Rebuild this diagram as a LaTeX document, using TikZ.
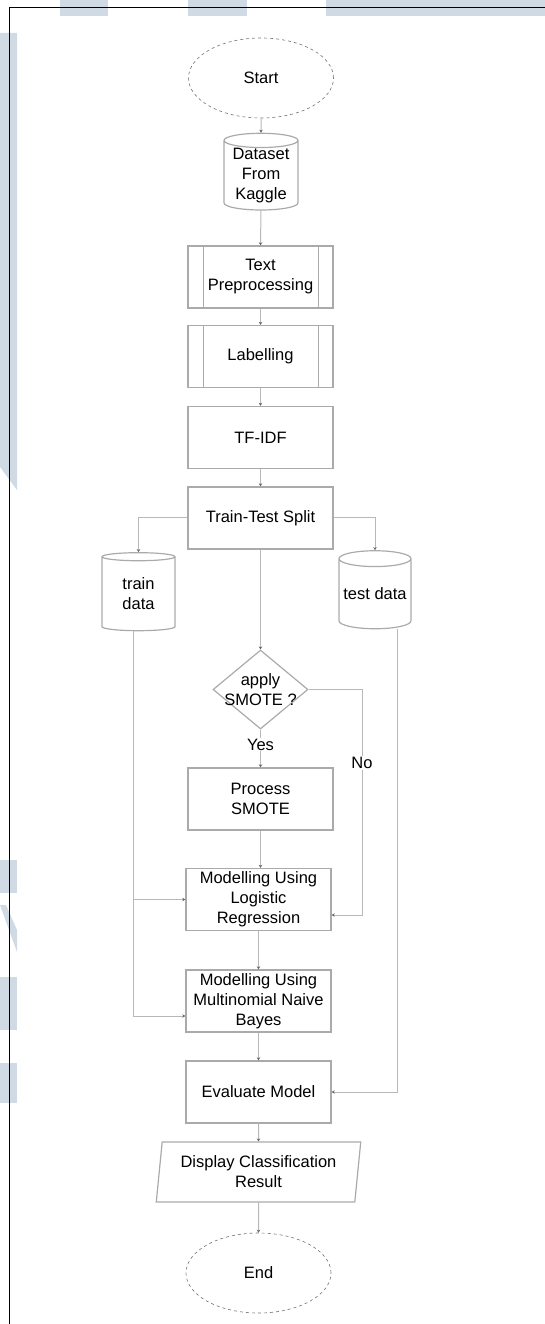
\documentclass[tikz,border=0pt]{standalone}
\usepackage{fontspec}
\setmainfont{Liberation Sans}
\usetikzlibrary{shapes.geometric,arrows.meta,calc}
\definecolor{Wash}{HTML}{CFDAE4}
\definecolor{Edge}{HTML}{AAAAAA}
\definecolor{Wire}{HTML}{B8B8B8}
\tikzset{
  base/.style={font=\fontsize{16.5}{20}\selectfont, align=center, text=black, inner sep=0pt},
  procbox/.style={base, rectangle, draw=Edge, line width=1.4pt, minimum width=145pt, minimum height=62pt},
  subbox/.style={procbox, path picture={
      \draw[Edge, line width=1pt]
        ([xshift=15pt]path picture bounding box.north west) -- ([xshift=15pt]path picture bounding box.south west)
        ([xshift=-15pt]path picture bounding box.north east) -- ([xshift=-15pt]path picture bounding box.south east);}},
  terminal/.style={base, ellipse, draw=black!55, dashed, line width=0.6pt, minimum width=145pt, minimum height=80pt},
  store/.style={base, cylinder, shape border rotate=90, aspect=0.25, draw=Edge, line width=1.2pt, minimum width=74pt, minimum height=76pt},
  choice/.style={base, diamond, draw=Edge, line width=1.2pt, minimum width=95pt, minimum height=79pt},
  output/.style={base, trapezium, trapezium left angle=81.5, trapezium right angle=98.5, trapezium stretches=true,
      draw=Edge, line width=1.2pt, minimum width=205pt, minimum height=60pt},
  flow/.style={draw=Wire, line width=1pt, -{Stealth[length=3pt,width=3.5pt,color=black!60]}},
  tag/.style={base, fill=white, inner sep=1pt}
}

\begin{document}
\begin{tikzpicture}[x=1pt,y=-1pt]
    \useasboundingbox (0,0) rectangle (545,1324);
    % faint marks of the page behind
    \fill[Wash] (60,0) rectangle (108,16);
    \fill[Wash] (188,0) rectangle (247,16);
    \fill[Wash] (326,0) rectangle (545,16);
    \fill[Wash] (0,33) -- (17,33) -- (17,490) -- (0,467) -- cycle;
    \fill[Wash] (0,860) rectangle (17,893);
    \fill[Wash] (0,905) -- (6,905) -- (17,930) -- (17,952) -- cycle;
    \fill[Wash] (0,977) rectangle (17,1030);
    \fill[Wash] (0,1063) rectangle (17,1103);
    \draw[black, line width=0.8pt] (545,7) -- (9,7) -- (9,1324);

    \node[terminal] (start) at (261,78) {Start};
    \node[store] (data) at (261,175.5) {Dataset\\From\\Kaggle};
    \node[subbox] (prep) at (260.5,277) {Text\\Preprocessing};
    \node[subbox] (labl) at (260.5,356.5) {Labelling};
    \node[procbox] (tfidf) at (260.5,437.5) {TF-IDF};
    \node[procbox] (split) at (260.5,518) {Train-Test Split};
    \node[store, minimum width=73pt, minimum height=78pt] (train) at (138.5,594) {train\\data};
    \node[store, minimum width=72pt, minimum height=78pt] (test) at (375,594) {test data};
    \node[choice, label={[base]center:apply\\SMOTE ?}] (ask) at (260.5,689.5) {};
    \node[procbox] (psmote) at (260.5,799) {Process\\SMOTE};
    \node[procbox] (lr) at (258.5,899.5) {Modelling Using\\Logistic\\Regression};
    \node[procbox] (mnb) at (258.5,1001) {Modelling Using\\Multinomial Naive\\Bayes};
    \node[procbox] (eval) at (258.5,1092) {Evaluate Model};
    \node[output] (disp) at (258.5,1172) {Display Classification\\Result};
    \node[terminal] (end) at (258.5,1273) {End};

    \draw[flow] (start.south) -- (data.north);
    \draw[flow] (data.south) -- (prep.north);
    \draw[flow] (prep.south) -- (labl.north);
    \draw[flow] (labl.south) -- (tfidf.north);
    \draw[flow] (tfidf.south) -- (split.north);
    \draw[flow] ([yshift=1pt]split.west) -| (train.north);
    \draw[flow] ([yshift=1pt]split.east) -| (test.north);
    \draw[flow] (split.south) -- (ask.north);
    \draw[flow] (ask.south) -- node[tag, pos=0.4] (yes) {Yes} (psmote.north);
    \draw[flow] (ask.east) -- ++(54,0) coordinate (nobend) |- ([yshift=-15.5pt]lr.east);
    \node[tag] (no) at (362,763) {No};
    \draw[flow] (psmote.south) -- (psmote.south |- lr.north);
    \draw[flow] ([xshift=-5.5pt]train.south) |- (lr.west);
    \draw[flow] ([xshift=-5.5pt]train.south) |- ([yshift=-15pt]mnb.west);
    \draw[flow] (lr.south) -- (mnb.north);
    \draw[flow] (mnb.south) -- (eval.north);
    \draw[flow] ([xshift=22pt]test.south) |- (eval.east);
    \draw[flow] (eval.south) -- (disp.north);
    \draw[flow] (disp.south) -- (end.north);
\end{tikzpicture}
\end{document}
